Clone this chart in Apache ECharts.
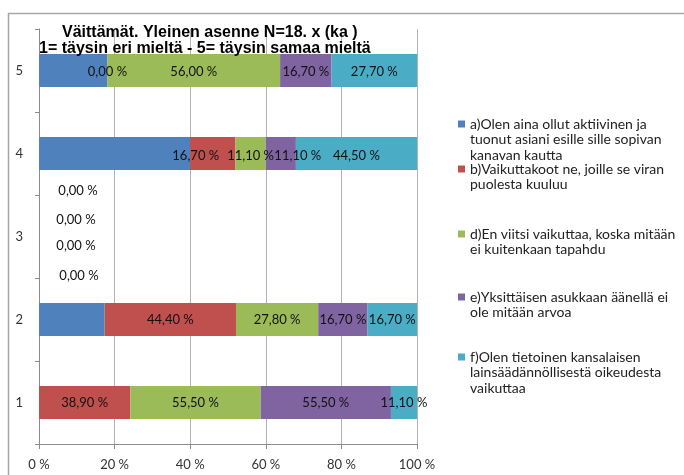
<!DOCTYPE html>
<html>
<head>
<meta charset="utf-8">
<script src="https://cdn.jsdelivr.net/npm/echarts@6/dist/echarts.min.js"></script>
<style>
  html, body { margin: 0; padding: 0; background: #fff; }
  #chart { width: 684px; height: 475px; }
</style>
</head>
<body>
<div id="chart"></div>
<script>
// vastausvaihtoehdot (y-akseli)
const categories = ['1', '2', '3', '4', '5'];
// prosenttiosuudet sarjoittain, järjestyksessä 1..5
const valuesA = [0, 22.2, 0, 55.5, 22.2];
const valuesB = [38.9, 44.4, 0, 16.7, 0];
const valuesD = [55.5, 27.8, 0, 11.1, 56.0];
const valuesE = [55.5, 16.7, 0, 11.1, 16.7];
const valuesF = [11.1, 16.7, 0, 44.5, 27.7];
const xTicks = [0, 20, 40, 60, 80, 100];

const names = [
  'a)Olen aina ollut aktiivinen ja\ntuonut asiani esille sille sopivan\nkanavan kautta',
  'b)Vaikuttakoot ne, joille se viran\npuolesta kuuluu',
  'd)En viitsi vaikuttaa, koska mitään\nei kuitenkaan tapahdu',
  'e)Yksittäisen asukkaan äänellä ei\nole mitään arvoa',
  'f)Olen tietoinen kansalaisen\nlainsäädännöllisestä oikeudesta\nvaikuttaa'
];
const colors = ['#4F81BD', '#C0504D', '#9BBB59', '#8064A2', '#4BACC6'];
const allValues = [valuesA, valuesB, valuesD, valuesE, valuesF];

// tunnisteiden siirrot (sarja -> rivi -> [x, y])
const labelOffsets = [
  {},
  { 2: [39, -46], 3: [-17, 2], 4: [0, 1] },
  { 2: [37, -17], 3: [0, 2], 4: [0, 1] },
  { 2: [37, 9], 3: [17, 2], 4: [0, 1] },
  { 2: [40, 39], 3: [0, 2], 4: [0, 1] }
];

const totals = categories.map((c, i) => allValues.reduce((s, arr) => s + arr[i], 0));

function fmt(v) {
  return v.toFixed(2).replace('.', ',') + ' %';
}

const series = allValues.map((arr, si) => ({
  name: names[si],
  type: 'bar',
  stack: 'total',
  barWidth: 33,
  itemStyle: { color: colors[si] },
  emphasis: { disabled: true },
  data: arr.map((v, i) => ({
    value: totals[i] ? v / totals[i] * 100 : 0,
    label: {
      show: si > 0,
      position: 'inside',
      formatter: fmt(v),
      offset: labelOffsets[si][i] || [0, 0]
    }
  })),
  label: {
    fontFamily: 'Lato',
    fontSize: 13,
    color: '#111'
  }
}));

// selitteet: merkki ensimmäiselle riville rich-tekstinä
const lh = 15.5;
const legendCenters = [124, 169, 234, 297, 357];
const legends = names.map((n, i) => ({
  data: [n],
  left: 453,
  top: legendCenters[i] - lh / 2,
  padding: 0,
  icon: 'none',
  itemWidth: 0,
  itemHeight: 0,
  selectedMode: false,
  formatter: function (name) {
    const lines = name.split('\n');
    return lines.map((l, k) => (k === 0 ? '{m|}{g|}' : '{i|}') + '{t|' + l + '}').join('\n');
  },
  textStyle: {
    fontFamily: 'Lato',
    fontSize: 14,
    color: '#222',
    lineHeight: lh,
    rich: {
      m: { width: 7, height: 7, backgroundColor: colors[i] },
      g: { width: 5 },
      i: { width: 12 },
      t: { fontFamily: 'Lato', fontSize: 14, color: '#222', lineHeight: lh }
    }
  }
}));

const chart = echarts.init(document.getElementById('chart'));
chart.setOption({
  animation: false,
  title: [
    {
      text: 'Väittämät. Yleinen asenne N=18. x (ka )',
      left: 62, top: 25, padding: 0,
      textStyle: { fontFamily: 'Liberation Sans', fontWeight: 'bold', fontSize: 16, lineHeight: 16, color: '#000' }
    },
    {
      text: '1= täysin eri mieltä - 5= täysin samaa mieltä',
      left: 39, top: 41, padding: 0,
      textStyle: { fontFamily: 'Liberation Sans', fontWeight: 'bold', fontSize: 16, lineHeight: 16, color: '#000' }
    }
  ],
  legend: legends,
  grid: { left: 39, right: 267, top: 29, bottom: 31, containLabel: false },
  xAxis: {
    type: 'value',
    min: xTicks[0],
    max: xTicks[xTicks.length - 1],
    interval: xTicks[1] - xTicks[0],
    axisLine: { show: true, lineStyle: { color: '#8c8c8c' } },
    axisTick: { show: true, length: 5, lineStyle: { color: '#8c8c8c' } },
    splitLine: { show: true, lineStyle: { color: '#b3b3b3' } },
    axisLabel: { formatter: '{value} %', margin: 14, fontFamily: 'Lato', fontSize: 13, color: '#333' }
  },
  yAxis: {
    type: 'category',
    data: categories,
    axisLine: { show: true, lineStyle: { color: '#8c8c8c' } },
    axisTick: { show: true, length: 4, lineStyle: { color: '#8c8c8c' } },
    axisLabel: { margin: 16, fontFamily: 'Lato', fontSize: 13, color: '#333' }
  },
  graphic: [
    { type: 'line', shape: { x1: 8, y1: 13.5, x2: 684, y2: 13.5 }, style: { stroke: '#a6a6a6', lineWidth: 1.5 } },
    { type: 'line', shape: { x1: 8.5, y1: 13, x2: 8.5, y2: 475 }, style: { stroke: '#a6a6a6', lineWidth: 1.5 } }
  ],
  series: series
});
</script>
</body>
</html>
